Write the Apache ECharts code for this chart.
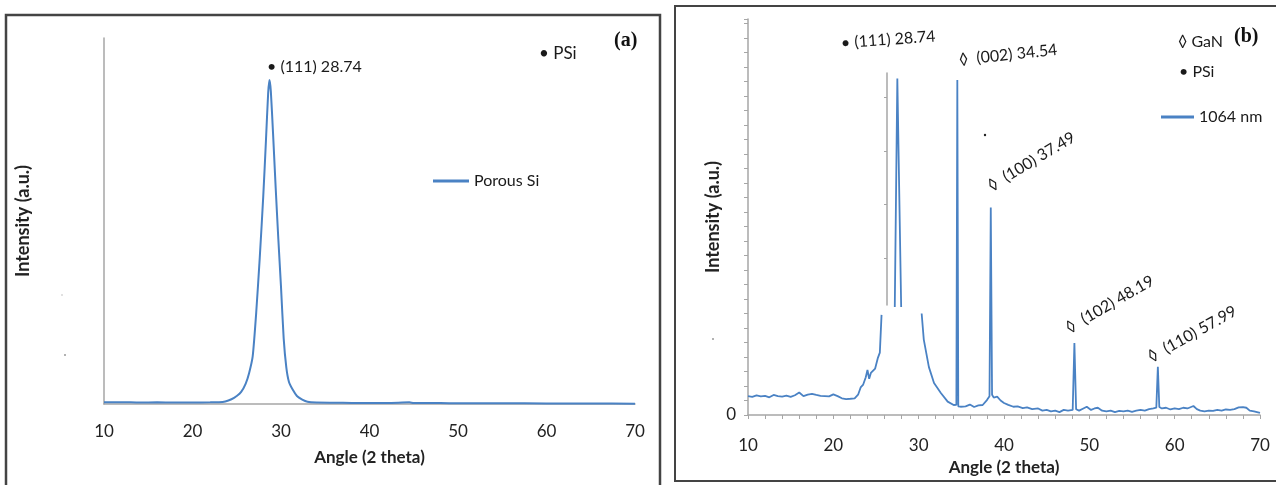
<!DOCTYPE html>
<html>
<head>
<meta charset="utf-8">
<title>XRD patterns</title>
<script src="https://cdn.jsdelivr.net/npm/echarts@6/dist/echarts.min.js"></script>
<style>
    html, body { margin: 0; padding: 0; background: #fff; }
    #chart { width: 1276px; height: 485px; }
</style>
</head>
<body>
<div id="chart"></div>
<script>
// (a) porous Si
var angleA = [10, 12, 14, 16, 18, 20, 22, 23, 23.7, 24.4, 25, 25.5, 26, 26.4, 26.8, 27.2, 27.6, 28, 28.3, 28.55, 28.7,
    28.85, 29.1, 29.4, 29.7, 30, 30.3, 30.6, 30.9, 31.3, 31.8, 32.4, 33, 34, 36, 38, 40, 42, 44.5, 45, 48, 50, 55, 60, 65, 70];
var intensityA = [0.45, 0.5, 0.4, 0.45, 0.4, 0.4, 0.45, 0.5, 0.7, 1.3, 2.2, 3.3, 5.5, 8.5, 13, 25, 40, 57, 72, 85, 88.5,
    85.5, 74, 59, 45, 32, 18, 10, 6, 4, 2.2, 1.2, 0.6, 0.4, 0.35, 0.3, 0.3, 0.3, 0.45, 0.3, 0.25, 0.2, 0.2, 0.15, 0.15, 0.1];

// (b) GaN on PSi, 1064 nm - null marks the axis break
var angleB = [10, 10.5, 11, 11.5, 12, 12.5, 13, 13.5, 14, 14.5, 15, 15.5, 16, 16.5, 17, 17.5, 18, 18.5, 19, 19.5, 20, 20.5,
    21, 21.5, 22, 22.5, 22.9, 23.2, 23.5, 23.8, 24.0, 24.2, 24.4, 24.6, 24.9, 25.2, 25.45, 25.65, 26,
    30.35, 30.6, 31.2, 31.8, 32.6, 33.4, 34.1, 34.42, 34.53, 34.64, 34.9, 35.5, 36, 36.5, 37, 37.5, 38.0, 38.3, 38.45, 38.6,
    38.8, 39.2, 39.6, 40, 40.5, 41.1, 41.6, 42.2, 42.7, 43.3, 44, 44.5, 45, 45.5, 46, 46.5, 47, 47.5, 48.05, 48.25, 48.45,
    48.8, 49.3, 49.7, 50.2, 50.6, 51, 51.5, 52, 52.5, 53, 53.5, 54, 54.5, 55, 55.5, 56, 56.5, 57, 57.5, 57.85, 58.03, 58.2,
    58.5, 59, 59.5, 60, 60.5, 61, 61.5, 62.2, 62.6, 63, 63.5, 64, 64.5, 65, 65.5, 66, 66.5, 67, 67.5, 68, 68.4, 68.8, 69.3, 70];
var intensityB = [1.3, 1.25, 1.35, 1.28, 1.32, 1.22, 1.38, 1.3, 1.27, 1.33, 1.25, 1.36, 1.55, 1.3, 1.4, 1.45, 1.38, 1.32, 1.3,
    1.28, 1.42, 1.3, 1.15, 1.1, 1.12, 1.15, 1.4, 1.9, 2.1, 2.6, 3.1, 2.5, 2.9, 2.8, 3.2, 3.9, 4.3, 6.9, null,
    7.0, 5.2, 3.3, 2.2, 1.52, 0.92, 0.69, 0.7, 23.1, 0.6, 0.57, 0.6, 0.72, 0.55, 0.66, 0.69, 1.03, 1.3, 14.3, 1.4,
    1.2, 1.26, 1.0, 0.83, 0.7, 0.57, 0.6, 0.48, 0.52, 0.4, 0.45, 0.3, 0.35, 0.25, 0.3, 0.2, 0.35, 0.3, 0.35, 4.97, 0.4,
    0.3, 0.45, 0.57, 0.35, 0.45, 0.5, 0.3, 0.25, 0.3, 0.2, 0.28, 0.25, 0.3, 0.22, 0.3, 0.35, 0.3, 0.4, 0.45, 0.5, 3.33, 0.55,
    0.45, 0.5, 0.38, 0.45, 0.4, 0.5, 0.45, 0.62, 0.4, 0.3, 0.25, 0.3, 0.28, 0.35, 0.3, 0.38, 0.35, 0.4, 0.52, 0.55, 0.5, 0.3, 0.25, 0.14];
// (111) peak drawn above the break
var angleBPeak = [27.2, 27.5, 27.95];
var intensityBPeak = [7.45, 23.2, 7.45];
var insetTicks = [0.88, 1.88, 2.88, 3.88];

var blue = '#4a82c4';
var axisGray = '#a6a6a6';
var font = 'Lato, "Open Sans", sans-serif';

function pairs(xs, ys) {
    return xs.map(function (x, i) { return [x, ys[i] === null ? '-' : ys[i]]; });
}

function label(text, x, y, size, deg, extra) {
    return {
        type: 'text', x: x, y: y, rotation: (deg || 0) * Math.PI / 180,
        style: { text: text, font: (extra || '') + size + 'px ' + font, fill: '#1a1a1a', align: 'left', verticalAlign: 'middle' }
    };
}

var myChart = echarts.init(document.getElementById('chart'));
var option = {
    animation: false,
    textStyle: { fontFamily: font },
    grid: [
        { left: 104, right: 641, top: 38, bottom: 81 },
        { left: 748, right: 16, top: 19, bottom: 70 },
        { left: 887, width: 10, top: 73, height: 232 }
    ],
    legend: [
        { data: ['Porous Si'], left: 433, top: 173, padding: 0, icon: 'rect', itemWidth: 36, itemHeight: 3,
          textStyle: { fontSize: 16, color: '#1a1a1a' } },
        { data: ['1064 nm'], left: 1161, top: 109, padding: 0, icon: 'rect', itemWidth: 33, itemHeight: 3,
          textStyle: { fontSize: 16, color: '#1a1a1a' } }
    ],
    xAxis: [
        {
            gridIndex: 0, type: 'value', min: 10, max: 70, interval: 10,
            axisLine: { lineStyle: { color: axisGray, width: 1.5 } },
            axisTick: { show: false }, splitLine: { show: false },
            axisLabel: { margin: 19, fontSize: 17, color: '#222' },
            name: 'Angle (2 theta)', nameLocation: 'middle', nameGap: 45,
            nameTextStyle: { fontWeight: 'bold', fontSize: 17, color: '#222' }
        },
        {
            gridIndex: 1, type: 'value', min: 10, max: 70, interval: 10,
            axisLine: { lineStyle: { color: axisGray, width: 1.5 } },
            axisTick: { show: true, length: 4, lineStyle: { color: axisGray } },
            minorTick: { show: true, splitNumber: 5, length: 4, lineStyle: { color: axisGray } },
            splitLine: { show: false },
            axisLabel: { margin: 22, fontSize: 17, color: '#222' },
            name: 'Angle (2 theta)', nameLocation: 'middle', nameGap: 44,
            nameTextStyle: { fontWeight: 'bold', fontSize: 17, color: '#222' }
        },
        { gridIndex: 2, type: 'value', min: 0, max: 1, show: false }
    ],
    yAxis: [
        {
            gridIndex: 0, type: 'value', min: 0, max: 100,
            axisLine: { show: true, lineStyle: { color: axisGray, width: 1.5 } },
            axisTick: { show: false }, axisLabel: { show: false }, splitLine: { show: false },
            name: 'Intensity (a.u.)', nameLocation: 'middle', nameGap: 72, nameRotate: 90,
            nameTextStyle: { fontWeight: 'bold', fontSize: 18, color: '#222' }
        },
        {
            gridIndex: 1, type: 'value', min: 0, max: 27.3, interval: 1,
            axisLine: { show: true, lineStyle: { color: axisGray, width: 1.5 } },
            axisTick: { show: true, length: 4, lineStyle: { color: axisGray } },
            axisLabel: { margin: 12, fontSize: 17, color: '#222',
                formatter: function (v) { return v === 0 ? '0' : ''; } },
            splitLine: { show: false },
            name: 'Intensity (a.u.)', nameLocation: 'middle', nameGap: 22, nameRotate: 90,
            nameTextStyle: { fontWeight: 'bold', fontSize: 18, color: '#222' }
        },
        {
            gridIndex: 2, type: 'value', min: 0, max: 4.34,
            axisLine: { show: true, lineStyle: { color: axisGray, width: 1.5 } },
            axisTick: { show: true, length: 3, customValues: insetTicks, lineStyle: { color: axisGray } },
            axisLabel: { show: false }, splitLine: { show: false }
        }
    ],
    series: [
        {
            name: 'Porous Si', type: 'line', xAxisIndex: 0, yAxisIndex: 0,
            data: pairs(angleA, intensityA), symbol: 'none', smooth: 0.2,
            lineStyle: { color: blue, width: 2 }, itemStyle: { color: blue }
        },
        {
            name: '1064 nm', type: 'line', xAxisIndex: 1, yAxisIndex: 1,
            data: pairs(angleB, intensityB), symbol: 'none', connectNulls: false,
            lineStyle: { color: blue, width: 1.8 }, itemStyle: { color: blue }
        },
        {
            name: '1064 nm', type: 'line', xAxisIndex: 1, yAxisIndex: 1,
            data: pairs(angleBPeak, intensityBPeak), symbol: 'none',
            lineStyle: { color: blue, width: 1.8 }, itemStyle: { color: blue }
        }
    ],
    graphic: [
        // panel frames
        { type: 'rect', shape: { x: 6, y: 15, width: 654, height: 480 }, style: { fill: 'none', stroke: '#444', lineWidth: 2.5 } },
        { type: 'rect', shape: { x: 675, y: 6, width: 603, height: 475 }, style: { fill: 'none', stroke: '#444', lineWidth: 2 } },
        // (a) annotations
        label('\u2022 (111) 28.74', 267, 67, 16),
        label('\u2022 PSi', 539, 54, 17),
        { type: 'text', x: 614, y: 41, style: { text: '(a)', font: 'bold 20px "Liberation Serif"', fill: '#111', align: 'left', verticalAlign: 'middle' } },
        // (b) annotations
        label('\u2022 (111) 28.74', 841, 43, 16, 4),
        label('\u25CA  (002) 34.54', 959, 60, 16, 6),
        label('\u25CA  (100) 37.49', 989, 187, 16, 31),
        label('\u25CA  (102) 48.19', 1067, 329, 16, 30),
        label('\u25CA  (110) 57.99', 1149, 358, 16, 29),
        label('\u25CA GaN', 1178, 42, 16),
        label('\u2022 PSi', 1179, 72, 16),
        { type: 'text', x: 1234, y: 37, style: { text: '(b)', font: 'bold 20px "Liberation Serif"', fill: '#111', align: 'left', verticalAlign: 'middle' } },
        // specks from the scan
        { type: 'circle', shape: { cx: 985, cy: 135, r: 1.2 }, style: { fill: '#222' } },
        { type: 'circle', shape: { cx: 713, cy: 339, r: 1 }, style: { fill: '#999' } },
        { type: 'circle', shape: { cx: 65, cy: 355, r: 1 }, style: { fill: '#999' } },
        { type: 'circle', shape: { cx: 62, cy: 295, r: 0.8 }, style: { fill: '#bbb' } }
    ]
};
myChart.setOption(option);
</script>
</body>
</html>
